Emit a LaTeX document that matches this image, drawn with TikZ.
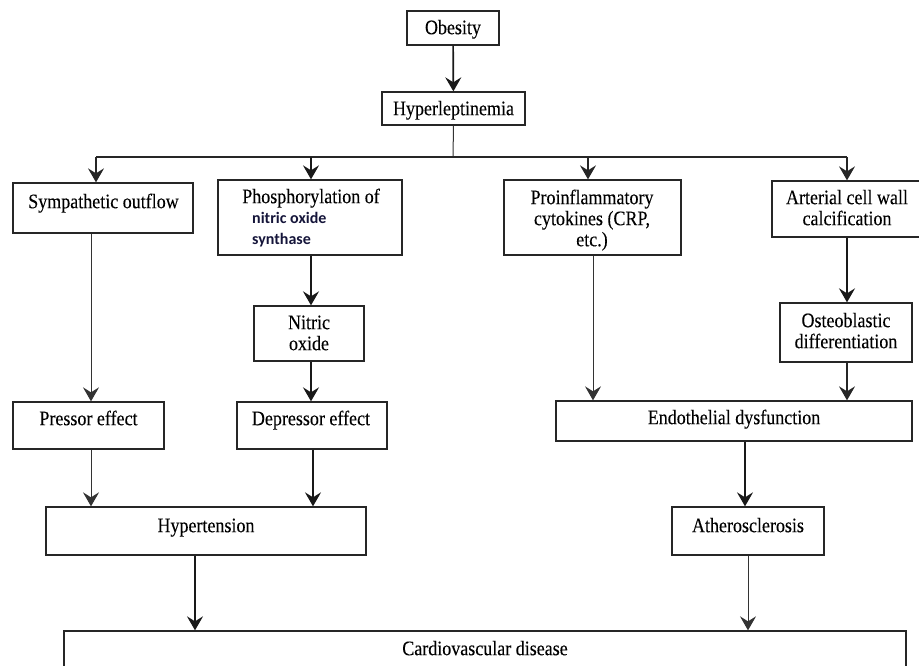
\documentclass[tikz,border=0pt]{standalone}
\usepackage{fontspec}
\usepackage{graphicx}
\setmainfont{Liberation Serif}[FakeBold=0.12]
\newfontfamily\boldsans{Carlito}
\usetikzlibrary{arrows.meta}
\definecolor{navytxt}{HTML}{15153A}
\newcommand\mytx[1]{\scalebox{1}[1.15]{\fontsize{18}{18.3}\selectfont\begin{tabular}{@{}c@{}}#1\end{tabular}}}
\begin{document}
\begin{tikzpicture}[x=1pt,y=-1pt,
  box/.style={draw=black!85,line width=1.3pt,inner sep=0pt},
  txt/.style={inner sep=0pt,text=black},
  thin/.style={line width=1pt,draw=black!80},
  thick/.style={line width=1.7pt,draw=black!90},
  arr/.style={-{Stealth[length=14pt,width=16pt,inset=5pt]}}]
\useasboundingbox (0,0) rectangle (919,666);
\clip (0,0) rectangle (919,666);
% boxes
\node[box,minimum width=92pt,minimum height=34pt] (obes) at (453,28) {};
\node[box,minimum width=143pt,minimum height=33pt] (hyper) at (453.5,108.5) {};
\node[box,minimum width=180pt,minimum height=50pt] (symp) at (103,208) {};
\node[box,minimum width=184pt,minimum height=75pt] (phos) at (310,217.5) {};
\node[box,minimum width=177pt,minimum height=75pt] (proi) at (592.5,217.5) {};
\node[box,minimum width=160pt,minimum height=56pt] (arte) at (852,209) {};
\node[box,minimum width=110pt,minimum height=55pt] (nitr) at (309,333.5) {};
\node[box,minimum width=132pt,minimum height=59pt] (oste) at (846,332.5) {};
\node[box,minimum width=151pt,minimum height=47pt] (pres) at (88.5,425.5) {};
\node[box,minimum width=150pt,minimum height=47pt] (depr) at (312,425.5) {};
\node[box,minimum width=356pt,minimum height=40pt] (endo) at (734,421) {};
\node[box,minimum width=320pt,minimum height=48pt] (hypt) at (206,531) {};
\node[box,minimum width=152pt,minimum height=48pt] (athe) at (748,531) {};
\node[box,minimum width=842pt,minimum height=60pt] (card) at (485,661) {};
% texts
\node[txt] (tobes) at (453,30) {\mytx{Obesity}};
\node[txt] (thyper) at (453.5,111) {\mytx{Hyperleptinemia}};
\node[txt] (tsymp) at (103.5,204) {\mytx{Sympathetic outflow}};
\node[txt] (tphos) at (311,199) {\mytx{Phosphorylation of}};
\node[inner sep=0pt,anchor=west,font=\boldsans\bfseries\fontsize{16}{21}\selectfont,text=navytxt,align=left] (tphos2) at (252,229.5) {nitric oxide\\synthase};
\node[txt] (tproi) at (592,221) {\mytx{Proinflammatory\\cytokines (CRP,\\etc.)}};
\node[txt] (tarte) at (847,210.5) {\mytx{Arterial cell wall\\calcification}};
\node[txt] (tnitr) at (309,335.5) {\mytx{Nitric\\oxide}};
\node[txt] (toste) at (846,333.5) {\mytx{Osteoblastic\\differentiation}};
\node[txt] (tpres) at (88.5,421) {\mytx{Pressor effect}};
\node[txt] (tdepr) at (311,421) {\mytx{Depressor effect}};
\node[txt] (tendo) at (734,420) {\mytx{Endothelial dysfunction}};
\node[txt] (thypt) at (206,528) {\mytx{Hypertension}};
\node[txt] (tathe) at (748,528) {\mytx{Atherosclerosis}};
\node[txt] (tcard) at (485,651) {\mytx{Cardiovascular disease}};
% branch
\coordinate (bj) at (453,157);
\coordinate (bl) at (96,157);
\coordinate (br) at (847,157);
\coordinate (bp) at (311,157);
\coordinate (bq) at (588,157);
\draw[thick,arr] (obes) -- (hyper);
\draw[thin] (hyper.south) -- (bj);
\draw[line width=1.3pt,draw=black!85] (bl) -- (br);
\draw[line width=1.3pt,draw=black!85,arr] (bl) -- (bl |- symp.north);
\draw[line width=1.5pt,draw=black!90,arr] (bp) -- (bp |- phos.north);
\draw[line width=1.3pt,draw=black!85,arr] (bq) -- (bq |- proi.north);
\draw[line width=1.3pt,draw=black!85,arr] (br) -- (br |- arte.north);
% columns
\coordinate (xa) at (91,0);
\coordinate (xb) at (311,0);
\coordinate (xc) at (593,0);
\coordinate (xd) at (847,0);
\coordinate (xe) at (313,0);
\coordinate (xf) at (745,0);
\coordinate (xg) at (195,0);
\coordinate (xh) at (748,0);
\draw[thin,arr] (symp.south -| xa) -- (pres.north -| xa);
\draw[thick,arr] (phos.south -| xb) -- (nitr.north -| xb);
\draw[thick,arr] (nitr.south -| xb) -- (depr.north -| xb);
\draw[thin,arr] (proi.south -| xc) -- (endo.north -| xc);
\draw[thick,arr] (arte.south -| xd) -- (oste.north -| xd);
\draw[line width=1.3pt,draw=black!85,arr] (oste.south -| xd) -- (endo.north -| xd);
\draw[thin,arr] (pres.south -| xa) -- (hypt.north -| xa);
\draw[line width=1.4pt,draw=black!90,arr] (depr.south -| xe) -- (hypt.north -| xe);
\draw[line width=1.4pt,draw=black!90,arr] (endo.south -| xf) -- (athe.north -| xf);
\draw[line width=1.4pt,draw=black!90,arr] (hypt.south -| xg) -- (card.north -| xg);
\draw[thin,arr] (athe.south -| xh) -- (card.north -| xh);
\end{tikzpicture}
\end{document}
